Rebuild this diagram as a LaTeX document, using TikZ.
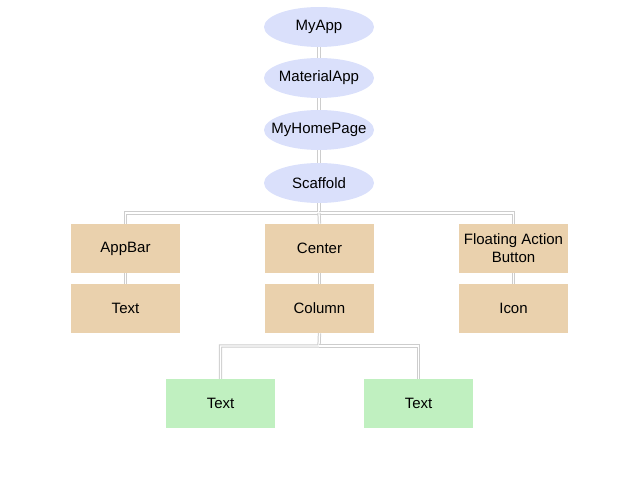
\documentclass[tikz,border=0pt]{standalone}
\usepackage{fontspec}
\setmainfont{Liberation Sans}
\usetikzlibrary{shapes.geometric}

\definecolor{appblue}{RGB}{218,224,251}
\definecolor{widgettan}{RGB}{234,209,173}
\definecolor{leafgreen}{RGB}{192,240,192}
\definecolor{linkgray}{RGB}{205,205,205}

\begin{document}
\begin{tikzpicture}[
  x = 0.03cm, y = -0.03cm,
  every node/.style = {
    inner sep = 0pt,
    font = \fontsize{12.8}{15.5}\selectfont,
    align = center
  },
  app/.style = {ellipse, fill=appblue, inner xsep=-10pt,
    minimum width = 3.3cm, minimum height = 1.2cm},
  widget/.style = {rectangle, fill=widgettan,
    minimum width = 3.27cm, minimum height = 1.47cm},
  leaf/.style = {widget, fill=leafgreen},
  link/.style = {draw=linkgray, line width=0.85pt,
    double=white, double distance=1.1pt}
]
  \useasboundingbox (0,0) rectangle (639,485);

  % nodes
  \node[app] (myapp)    at (319,27)  {MyApp};
  \node[app] (material) at (319,78)  {MaterialApp};
  \node[app] (home)     at (319,130) {MyHomePage};
  \node[app] (scaffold) at (319,183) {Scaffold};

  \node[widget] (appbar) at (125.5,248.5) {AppBar};
  \node[widget] (center) at (319.5,248.5) {Center};
  \node[widget] (fab)    at (513.5,248.5) {Floating Action\\Button};

  \node[widget] (bartext) at (125.5,308.5) {Text};
  \node[widget] (column)  at (319.5,308.5) {Column};
  \node[widget] (icon)    at (513.5,308.5) {Icon};

  \node[leaf] (textA) at (220.5,403.5) {Text};
  \node[leaf] (textB) at (418.5,403.5) {Text};

  \coordinate (sbar) at (319,213);
  \coordinate (cbar) at (319,346);

  % edges
  \draw[link] (myapp) -- (material);
  \draw[link] (material) -- (home);
  \draw[link] (home) -- (scaffold);
  \draw[link] (scaffold.south) -- (sbar) -| (appbar.north);
  \draw[link] (sbar) -| (fab.north);
  \draw[link] (sbar) -- (center.north);
  \draw[link] (appbar) -- (bartext);
  \draw[link] (center) -- (column);
  \draw[link] (fab) -- (icon);
  \draw[link] (column.south) -- (cbar) -| (textA.north);
  \draw[link] (cbar) -| (textB.north);
\end{tikzpicture}
\end{document}
